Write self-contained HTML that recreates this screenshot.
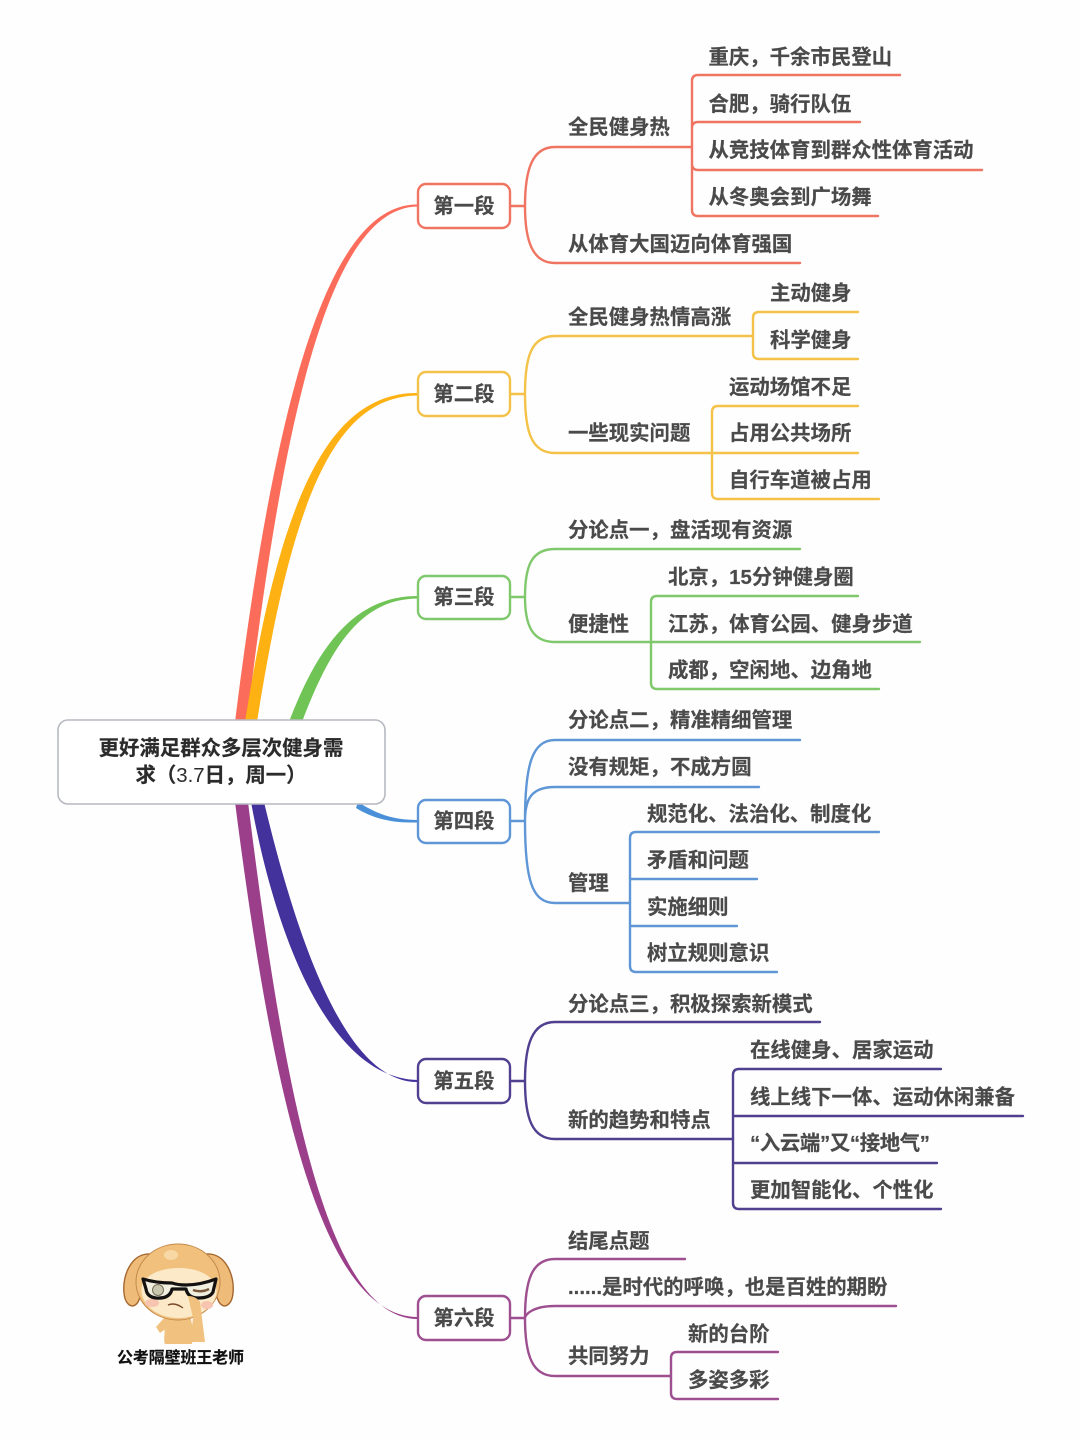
<!DOCTYPE html>
<html lang="zh-CN"><head><meta charset="utf-8"><title>更好满足群众多层次健身需求</title>
<style>
html,body{margin:0;padding:0;background:#fefefe;width:1080px;height:1439px;overflow:hidden}
svg{display:block}
text{font-family:"Liberation Sans","Noto Sans CJK SC",sans-serif;font-weight:700;font-size:20.4px;fill:#4a4a4a;stroke:#4a4a4a;stroke-width:.2}
.l{fill:none;stroke-width:2.4;stroke-linecap:round;stroke-linejoin:round}
.b{fill:#fff;stroke-width:2.4}
.n{text-anchor:middle}
</style></head><body>
<svg width="1080" height="1439" viewBox="0 0 1080 1439" xmlns="http://www.w3.org/2000/svg">
<!-- main branches -->
<path fill="#fb6d5a" d="M235,722C275,400 328,203 418,204.5V206.5C333,207 285,400 247,722Z"/>
<path fill="#fdb112" d="M245,722C280,500 328,392 418,393V395.5C334,396 292,500 257,722Z"/>
<path fill="#6fc455" d="M289,722C320,640 358,596 418,596V598.5C364,599 333,640 302,722Z"/>
<path fill="#4a90d9" d="M358,802C380,816 396,820 418,820V822.5C392,823 374,819 356,808Z"/>
<path fill="#43319c" d="M251,802C280,960 338,1079 418,1080V1082C352,1083 303,965 264,802Z"/>
<path fill="#9c3f8b" d="M235,802C273,1100 322,1317 418,1317V1319C328,1319 285,1100 248,802Z"/>

<!-- section 1 -->
<g class="l" stroke="#ef7462">
<path d="M510,206H525M555,147H692M555,147C532,147 525,170 525,206C525,240 532,263 555,263H800"/>
<path d="M900,75H698Q692,75 692,81V210Q692,216 698,216H878M860,122H698Q692,122 692,128M982,170H698Q692,170 692,164"/>
</g>
<rect class="b" stroke="#ef7462" x="418" y="184" width="92" height="44" rx="8"/>
<text class="n" x="464" y="213">第一段</text>
<text x="568" y="134">全民健身热</text>
<text x="568" y="251">从体育大国迈向体育强国</text>
<text x="708.500" y="64">重庆，千余市民登山</text>
<text x="708.500" y="111">合肥，骑行队伍</text>
<text x="708.500" y="157">从竞技体育到群众性体育活动</text>
<text x="708.500" y="204">从冬奥会到广场舞</text>

<!-- section 2 -->
<g class="l" stroke="#f4c248">
<path d="M510,394H525M525,394C525,355 532,336 555,336H753M525,394C525,433 532,453 555,453H712"/>
<path d="M858,312H759Q753,312 753,318V353Q753,359 759,359H858"/>
<path d="M858,406H718Q712,406 712,412V493Q712,499 718,499H879M712,453H858"/>
</g>
<rect class="b" stroke="#f4c248" x="418" y="372" width="92" height="44" rx="8"/>
<text class="n" x="464" y="401">第二段</text>
<text x="568" y="324">全民健身热情高涨</text>
<text x="568" y="440">一些现实问题</text>
<text x="770" y="300">主动健身</text>
<text x="770" y="347">科学健身</text>
<text x="729" y="394">运动场馆不足</text>
<text x="729" y="440">占用公共场所</text>
<text x="729" y="487">自行车道被占用</text>

<!-- section 3 -->
<g class="l" stroke="#7fc86c">
<path d="M510,597H525M525,597C525,565 532,549 555,549H800M525,597C525,625 532,642 555,642H651"/>
<path d="M858,596H657Q651,596 651,602V683Q651,689 657,689H879M651,642H920"/>
</g>
<rect class="b" stroke="#7fc86c" x="418" y="576" width="92" height="43" rx="8"/>
<text class="n" x="464" y="604">第三段</text>
<text x="568" y="537">分论点一，盘活现有资源</text>
<text x="568" y="631">便捷性</text>
<text x="668" y="584">北京，15分钟健身圈</text>
<text x="668" y="631">江苏，体育公园、健身步道</text>
<text x="668" y="677">成都，空闲地、边角地</text>

<!-- section 4 -->
<g class="l" stroke="#5e96d6">
<path d="M510,821H525M525,821C525,765 532,740 555,740H800M525,821C525,798 532,787 555,787H759M525,821C525,880 532,903 555,903H630"/>
<path d="M879,832H636Q630,832 630,838V966Q630,972 636,972H777M630,879H757M630,926H737"/>
</g>
<rect class="b" stroke="#5e96d6" x="418" y="800" width="92" height="43" rx="8"/>
<text class="n" x="464" y="828">第四段</text>
<text x="568" y="727">分论点二，精准精细管理</text>
<text x="568" y="774">没有规矩，不成方圆</text>
<text x="568" y="890">管理</text>
<text x="647" y="821">规范化、法治化、制度化</text>
<text x="647" y="867">矛盾和问题</text>
<text x="647" y="914">实施细则</text>
<text x="647" y="960">树立规则意识</text>

<!-- section 5 -->
<g class="l" stroke="#50408f">
<path d="M510,1081H525M525,1081C525,1045 532,1022 555,1022H820M525,1081C525,1118 532,1139 555,1139H733"/>
<path d="M941,1069H739Q733,1069 733,1075V1203Q733,1209 739,1209H941M733,1116H1023M733,1163H937"/>
</g>
<rect class="b" stroke="#50408f" x="418" y="1059" width="92" height="44" rx="8"/>
<text class="n" x="464" y="1088">第五段</text>
<text x="568" y="1011">分论点三，积极探索新模式</text>
<text x="568" y="1127">新的趋势和特点</text>
<text x="750" y="1057">在线健身、居家运动</text>
<text x="750" y="1104">线上线下一体、运动休闲兼备</text>
<text x="750" y="1150" textLength="180" lengthAdjust="spacing">“入云端”又“接地气”</text>
<text x="750" y="1197">更加智能化、个性化</text>

<!-- section 6 -->
<g class="l" stroke="#9d4f8f">
<path d="M510,1318H525M525,1318C525,1280 532,1259 555,1259H685M525,1318C525,1315 532,1306 555,1306H896M525,1318C525,1355 532,1376 555,1376H671"/>
<path d="M778,1352H677Q671,1352 671,1358V1393Q671,1399 677,1399H778"/>
</g>
<rect class="b" stroke="#9d4f8f" x="418" y="1296" width="92" height="44" rx="8"/>
<text class="n" x="464" y="1325">第六段</text>
<text x="568" y="1248">结尾点题</text>
<text x="568" y="1294">......是时代的呼唤，也是百姓的期盼</text>
<text x="568" y="1363">共同努力</text>
<text x="688" y="1341">新的台阶</text>
<text x="688" y="1387">多姿多彩</text>

<!-- root -->
<rect x="58" y="720" width="327" height="84" rx="10" fill="#fff" stroke="#b6b9c1" stroke-width="1.6"/>
<text class="n" x="221" y="755" style="fill:#2b2b2b;stroke:#2b2b2b">更好满足群众多层次健身需</text>
<text class="n" x="221" y="782" style="fill:#2b2b2b;stroke:#2b2b2b">求（<tspan font-weight="400" style="stroke:none">3.7</tspan>日，周一）</text>

<!-- mascot -->
<g stroke-linejoin="round">
<path d="M164,1316C166,1330 163,1340 165,1344H192C194,1336 193,1326 190,1316Z" fill="#f1c27f"/>
<path d="M150,1254C132,1253 122,1275 124,1293C125,1305 133,1310 138,1302C143,1292 147,1275 150,1254Z" fill="#eebb78" stroke="#a5672f" stroke-width="1.4"/>
<path d="M207,1254C225,1253 235,1275 233,1293C232,1305 224,1310 219,1302C214,1292 210,1275 207,1254Z" fill="#eebb78" stroke="#a5672f" stroke-width="1.4"/>
<ellipse cx="178" cy="1282" rx="42" ry="38" fill="#f0c07c" stroke="#c48a4c" stroke-width="1"/>
<ellipse cx="171" cy="1255" rx="7" ry="5" fill="#f8d9a6"/>
<path d="M142,1285C146,1274 162,1268 178,1268C196,1268 212,1274 216,1287C220,1303 202,1318 178,1318C156,1318 138,1303 142,1285Z" fill="#fbe9c8"/>
<ellipse cx="152" cy="1303" rx="7" ry="4" fill="#f7c4b0"/>
<ellipse cx="207" cy="1305" rx="6" ry="4" fill="#f7c4b0"/>
<path d="M143,1279Q156,1283 172,1283Q178,1285 186,1285Q200,1285 216,1279L213,1292Q210,1298 198,1298Q188,1298 186,1289H172Q170,1299 156,1298Q147,1297 146,1289Z" fill="#f1efe0" stroke="#141210" stroke-width="3.2"/>
<circle cx="158" cy="1290" r="5.500" fill="#c9c7ae" stroke="#77705a"/>
<path d="M193,1290Q201,1293 209,1289" stroke="#7a5a3a" stroke-width="2.500" fill="none"/>
<path d="M168,1305Q175,1302 183,1308" stroke="#7a4a2a" stroke-width="1.400" fill="none"/>
<path d="M188,1296Q196,1296 200,1302L205,1342H190L193,1318Z" fill="#f1c27f"/>
<path d="M164,1318L156,1327L160,1333L167,1328Z" fill="#f1c27f"/>
</g>
<text class="n" x="180.500" y="1363" style="font-size:15.900px;fill:#111;stroke:#111">公考隔壁班王老师</text>
</svg>
</body></html>
